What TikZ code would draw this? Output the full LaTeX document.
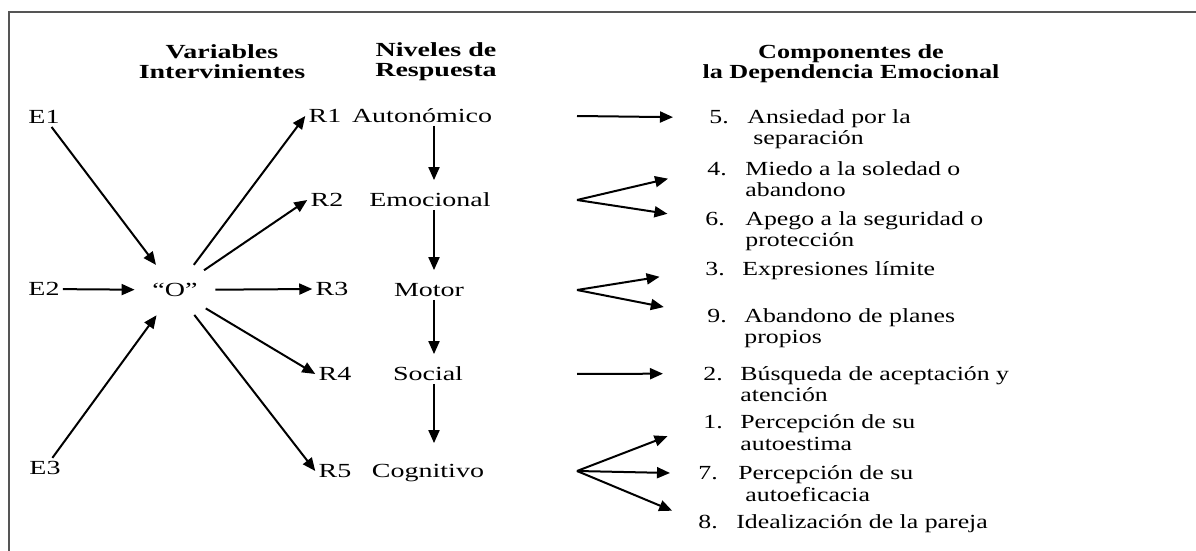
\documentclass[tikz,border=0pt]{standalone}
\usepackage{fontspec}
\setmainfont{Liberation Serif}[FakeStretch=1.4]
\newfontfamily\rfont{Liberation Serif}[FakeStretch=1.29]
\newfontfamily\hfont{Liberation Serif Bold}[FakeStretch=1.4]
\newfontfamily\hrfont{Liberation Serif Bold}[FakeStretch=1.31]
\usetikzlibrary{arrows.meta,shapes.geometric}
\definecolor{framegray}{HTML}{555555}
\newcommand{\itemlines}[1]{\begin{tabular}[t]{@{}l@{}}#1\end{tabular}}

\begin{document}
\begin{tikzpicture}[x=0.5pt,y=-0.5pt,
  lbl/.style={inner sep=1.5pt,font=\fontsize{10}{10.5}\selectfont},
  lvl/.style={lbl,text height=6.5pt,text depth=0pt},
  hdr/.style={align=center,inner sep=0pt,font=\hfont\fontsize{10}{10}\selectfont},
  num/.style={anchor=base west,inner sep=0pt,font=\rfont\fontsize{10}{10.5}\selectfont},
  arr/.style={-{Triangle[length=6.5pt,width=5.5pt]},line width=1pt},
  rarr/.style={arr,shorten >=19pt}]
\useasboundingbox (0,0) rectangle (1196,551);
\draw[framegray,line width=1pt] (9,551) -- (9,12) -- (1196,12);
\node[hdr] (hvar) at (222,62) {Variables\\Intervinientes};
\node[hdr] (hniv) at (436,62) {Niveles de\\Respuesta};
\node[hdr,font=\hrfont\fontsize{10}{10}\selectfont] (hcomp) at (851,64) {Componentes de\\la Dependencia Emocional};
\node[lbl] (E1) at (44,117) {E1};
\node[lbl] (E2) at (44,289) {E2};
\node[lbl] (E3) at (45,468) {E3};
\node[lbl,ellipse,minimum width=40pt,minimum height=28pt,inner sep=0pt] (O) at (175,290) {``O''};
\node[lbl] (R1) at (325,116) {R1};
\node[lbl] (R2) at (327,200) {R2};
\node[lbl] (R3) at (332,289) {R3};
\node[lbl] (R4) at (335,374) {R4};
\node[lbl] (R5) at (335,471) {R5};
\node[lvl] (aut) at (422,116) {Autonómico};
\node[lvl] (emo) at (430,200) {Emocional};
\node[lvl] (mot) at (429,290) {Motor};
\node[lvl] (soc) at (428,374) {Social};
\node[lvl] (cog) at (428,471) {Cognitivo};
\node[num] (n5) at (709,124) {5.};
\node[num] (t5) at (747,124) {\itemlines{Ansiedad por la\\\hspace*{3pt}separación}};
\node[num] (n4) at (707,176) {4.};
\node[num] (t4) at (745,176) {\itemlines{Miedo a la soledad o\\abandono}};
\node[num] (n6) at (705,226) {6.};
\node[num] (t6) at (745,226) {\itemlines{Apego a la seguridad o\\protección}};
\node[num] (n3) at (705,276) {3.};
\node[num] (t3) at (742,276) {Expresiones límite};
\node[num] (n9) at (707,322) {9.};
\node[num] (t9) at (744,322) {\itemlines{Abandono de planes\\propios}};
\node[num] (n2) at (703,380) {2.};
\node[num] (t2) at (740,380) {\itemlines{Búsqueda de aceptación y\\atención}};
\node[num] (n1) at (703,429) {1.};
\node[num] (t1) at (740,429) {\itemlines{Percepción de su\\autoestima}};
\node[num] (n7) at (698,480) {7.};
\node[num] (t7) at (738,480) {\itemlines{Percepción de su\\\hspace*{3.5pt}autoeficacia}};
\node[num] (n8) at (698,528) {8.};
\node[num] (t8) at (736,528) {Idealización de la pareja};
\coordinate (vx) at (434,0);
\coordinate (fk) at (577,0);
\draw[arr] (E1) -- (O);
\draw[arr] (E2) -- (O);
\draw[arr] (E3) -- (O);
\draw[arr] (O) -- (R1.west);
\draw[arr] (O) -- (R2.west);
\draw[arr] (O) -- (R3.west);
\draw[arr] (O) -- (R4.west);
\draw[arr] (O) -- (R5.west);
\draw[arr,shorten >=5pt] (aut.south -| vx) -- (emo.north -| vx);
\draw[arr,shorten >=5pt] (emo.south -| vx) -- (mot.north -| vx);
\draw[arr,shorten >=5pt] (mot.south -| vx) -- (soc.north -| vx);
\draw[arr,shorten >=9pt] (soc.south -| vx) -- (cog.north -| vx);
\draw[rarr,shorten >=18pt] (aut -| fk) -- (n5.west);
\draw[rarr,shorten >=20pt] (emo -| fk) -- (n4.west);
\draw[rarr] (emo -| fk) -- (n6.west);
\draw[rarr,shorten >=23pt] (mot -| fk) -- (n3.west);
\draw[rarr,shorten >=22pt] (mot -| fk) -- (n9.west);
\draw[rarr,shorten >=20pt] (soc -| fk) -- (n2.west);
\draw[rarr] (cog -| fk) -- (n1.west);
\draw[rarr,shorten >=14pt] (cog -| fk) -- (n7.west);
\draw[rarr,shorten >=14pt] (cog -| fk) -- (n8.west);
\end{tikzpicture}
\end{document}
